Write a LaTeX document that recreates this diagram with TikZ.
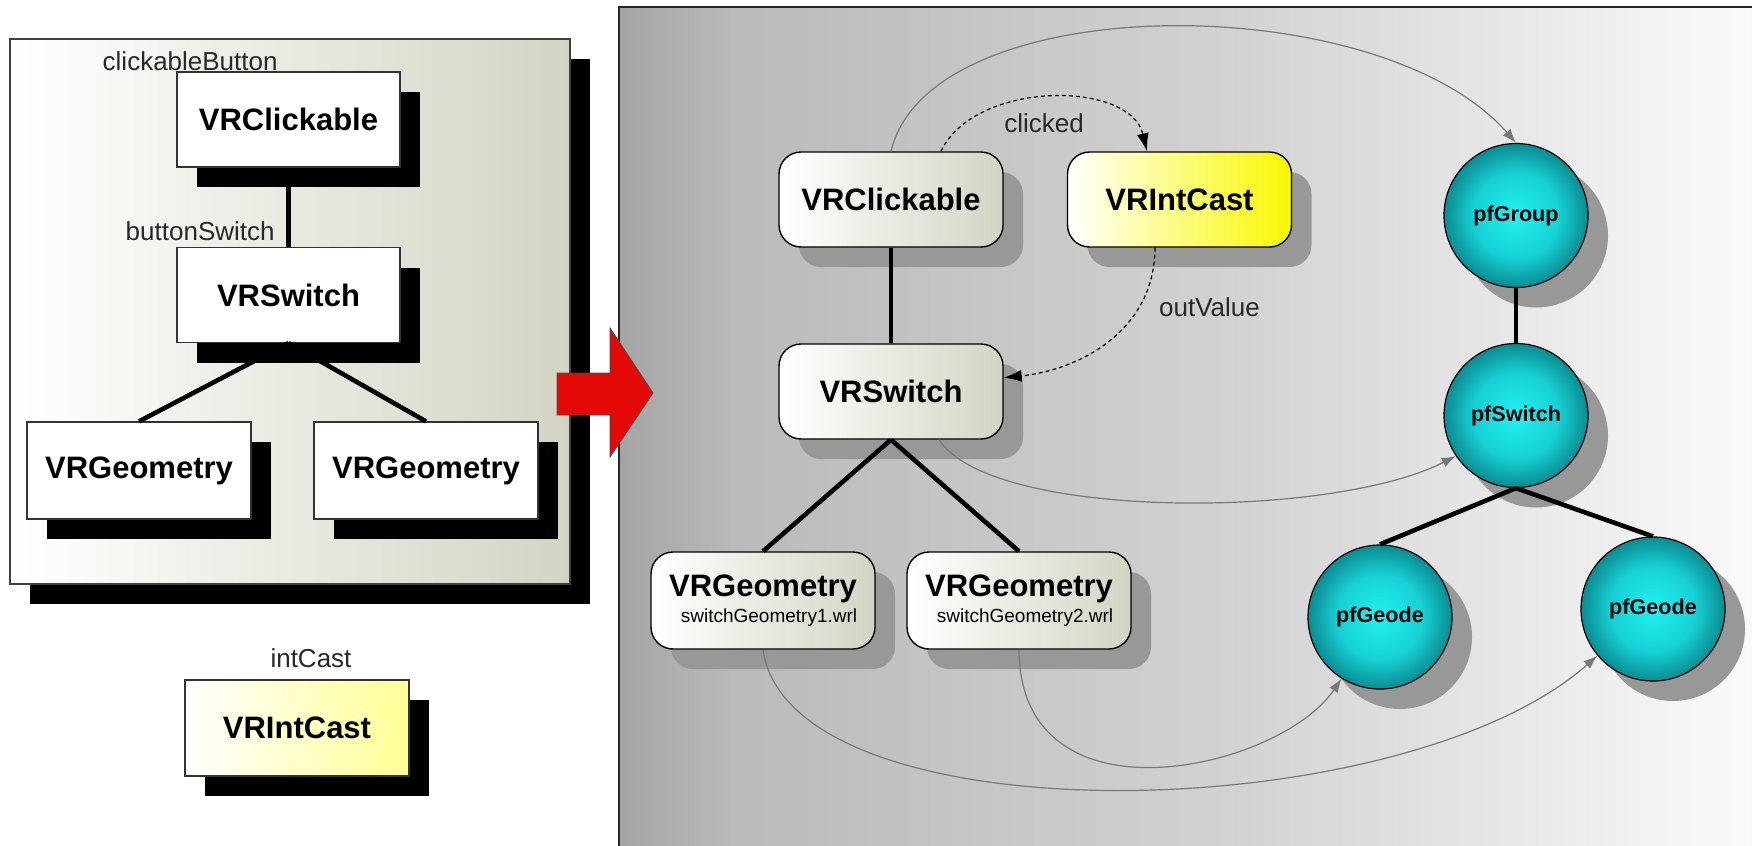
\documentclass[tikz,border=0pt]{standalone}
\usepackage{fontspec}
\setmainfont{Liberation Sans}
\usetikzlibrary{shadows,arrows.meta}

\definecolor{beige}{RGB}{212,212,196}
\definecolor{paleyel}{RGB}{255,255,150}
\definecolor{brightyel}{RGB}{248,248,0}
\definecolor{shadowgrey}{RGB}{152,152,152}
\definecolor{cyanin}{RGB}{34,242,242}
\definecolor{cyanmid}{RGB}{22,208,212}
\definecolor{cyanout}{RGB}{10,140,146}
\definecolor{arrowred}{RGB}{228,8,8}
\definecolor{curvegrey}{RGB}{120,120,120}
\definecolor{labelgrey}{RGB}{40,40,40}
\definecolor{pg0}{RGB}{164,164,164}
\definecolor{pg1}{RGB}{186,186,186}
\definecolor{pg2}{RGB}{210,210,210}
\definecolor{pg3}{RGB}{250,250,250}

% grey backdrop of the runtime scene graph, darker on the left
\pgfdeclarehorizontalshading{panelgrey}{100bp}{color(0bp)=(pg0); color(25bp)=(pg0); color(30bp)=(pg1); color(52bp)=(pg2); color(75bp)=(pg3); color(100bp)=(pg3)}
% bright cyan ball, darkening only close to its rim
\pgfdeclareradialshading{cyanball}{\pgfpoint{0bp}{0bp}}{color(0bp)=(cyanin); color(15bp)=(cyanmid); color(25bp)=(cyanout); color(50bp)=(cyanout)}

\tikzset{
  boldlabel/.style={font=\bfseries\fontsize{15.5}{18}\selectfont},
  leftpanel/.style={draw=black!75, line width=0.6pt, left color=white, right color=beige,
    minimum width=280pt, minimum height=272.5pt, inner sep=0pt,
    general shadow={fill=black, shadow xshift=10pt, shadow yshift=-10pt}},
  lbox/.style={boldlabel, draw=black!80, line width=0.6pt, fill=white,
    minimum width=111.5pt, minimum height=47.5pt, inner sep=0pt,
    general shadow={fill=black, shadow xshift=10pt, shadow yshift=-10pt}},
  rbox/.style={boldlabel, draw=black, line width=0.7pt, rounded corners=11pt,
    left color=white, right color=beige,
    minimum width=112pt, minimum height=47.5pt, inner sep=0pt,
    general shadow={fill=shadowgrey, shadow xshift=10pt, shadow yshift=-10pt}},
  pfnode/.style={circle, draw=black, line width=0.6pt, minimum size=72pt, inner sep=0pt,
    shading=cyanball,
    font=\bfseries\fontsize{10.8}{12}\selectfont,
    general shadow={fill=shadowgrey, shadow xshift=10pt, shadow yshift=-10pt}},
  tree/.style={line width=2.3pt, black},
  mapcurve/.style={curvegrey, line width=0.6pt, -{Latex[length=7pt,width=5pt]}},
  routeflow/.style={black, line width=0.6pt, dash pattern=on 2pt off 1.5pt,
    -{Latex[length=9pt,width=6pt]}},
  caption/.style={font=\fontsize{13}{15}\selectfont, text=labelgrey, inner sep=0pt},
}

\begin{document}
\begin{tikzpicture}[x=0.5pt,y=-0.5pt]
\useasboundingbox[fill=white] (0,0) rectangle (1752,846);

% ---- runtime scene graph backdrop ----
\shade[shading=panelgrey] (619,7) rectangle (1752,846);
\draw[line width=0.8pt, black!85] (619,846) -- (619,7) -- (1752,7);

% ---- VRML description ----
\node[leftpanel] (lp) at (290,311.5) {};

\node[lbox] (cb) at (288.5,119.5) {VRClickable};
\node[lbox] (bs) at (288.5,295) {VRSwitch};
\node[lbox, minimum width=112pt, minimum height=48.5pt] (lg1) at (139,470.5) {VRGeometry};
\node[lbox, minimum width=112pt, minimum height=48.5pt] (lg2) at (426,470.5) {VRGeometry};

\draw[tree] (cb.south) -- (bs.north);
\draw[tree] (bs.south) -- (lg1.north);
\draw[tree] (bs.south) -- (lg2.north);

\node[caption, anchor=base east] (cbname) at (278,70) {clickableButton};
\node[caption, anchor=base east] (bsname) at (275,240) {buttonSwitch};

\node[lbox, left color=white, right color=paleyel, minimum width=112pt, minimum height=48pt]
  (lic) at (297,728) {VRIntCast};
\node[caption, anchor=base] (icname) at (311,667) {intCast};

% ---- conversion arrow ----
\fill[arrowred, draw=black!70, line width=0.4pt]
  (557,373) -- (610,373) -- (610,328) -- (653,393) -- (610,457) -- (610,415) -- (557,415) -- cycle;

% ---- runtime nodes ----
\node[rbox] (rc) at (891,199.5) {VRClickable};
\node[rbox, right color=brightyel] (ri) at (1179.5,199.5) {VRIntCast};
\node[rbox] (rs) at (891,391.5) {VRSwitch};
\node[rbox, minimum height=48.5pt, align=center] (rg1) at (763,600.5)
  {VRGeometry\\[-5pt]{\mdseries\fontsize{9.5}{11}\selectfont\hspace*{6pt}switchGeometry1.wrl}};
\node[rbox, minimum height=48.5pt, align=center] (rg2) at (1019,600.5)
  {VRGeometry\\[-5pt]{\mdseries\fontsize{9.5}{11}\selectfont\hspace*{6pt}switchGeometry2.wrl}};

\node[pfnode] (pg) at (1516,215.5) {pfGroup};
\node[pfnode] (ps) at (1516,415.5) {pfSwitch};
\node[pfnode] (gl) at (1380,617) {pfGeode};
\node[pfnode] (gr) at (1653,609) {pfGeode};

% hierarchy edges
\draw[tree] (rc.south) -- (rs.north);
\draw[tree] (rs.south) -- (rg1.north);
\draw[tree] (rs.south) -- (rg2.north);
\draw[tree] (pg.south) -- (ps.north);
\draw[tree] (ps.south) -- (gl.north);
\draw[tree] (ps.south) -- (gr.north);

% mapping to Performer nodes
\draw[mapcurve] (rc.north) .. controls (930,-13) and (1380,-13) .. (pg.north);
\draw[mapcurve] (rs.-45) .. controls (990,520) and (1330,520) .. (ps.214);
\draw[mapcurve] (rg1.south) .. controls (790,840) and (1400,830) .. (gr.220);
\draw[mapcurve] (rg2.south) .. controls (1020,830) and (1280,770) .. (gl.238);

% routes
\draw[routeflow] (rc.44) .. controls (975,80) and (1130,80) .. (ri.124);
\node[caption] (clk) at (1044,123) {clicked};
\draw[routeflow] (ri.-117) .. controls (1155,330) and (1080,370) .. (rs.7);
\node[caption] (ov) at (1209.5,307) {outValue};
\end{tikzpicture}
\end{document}
